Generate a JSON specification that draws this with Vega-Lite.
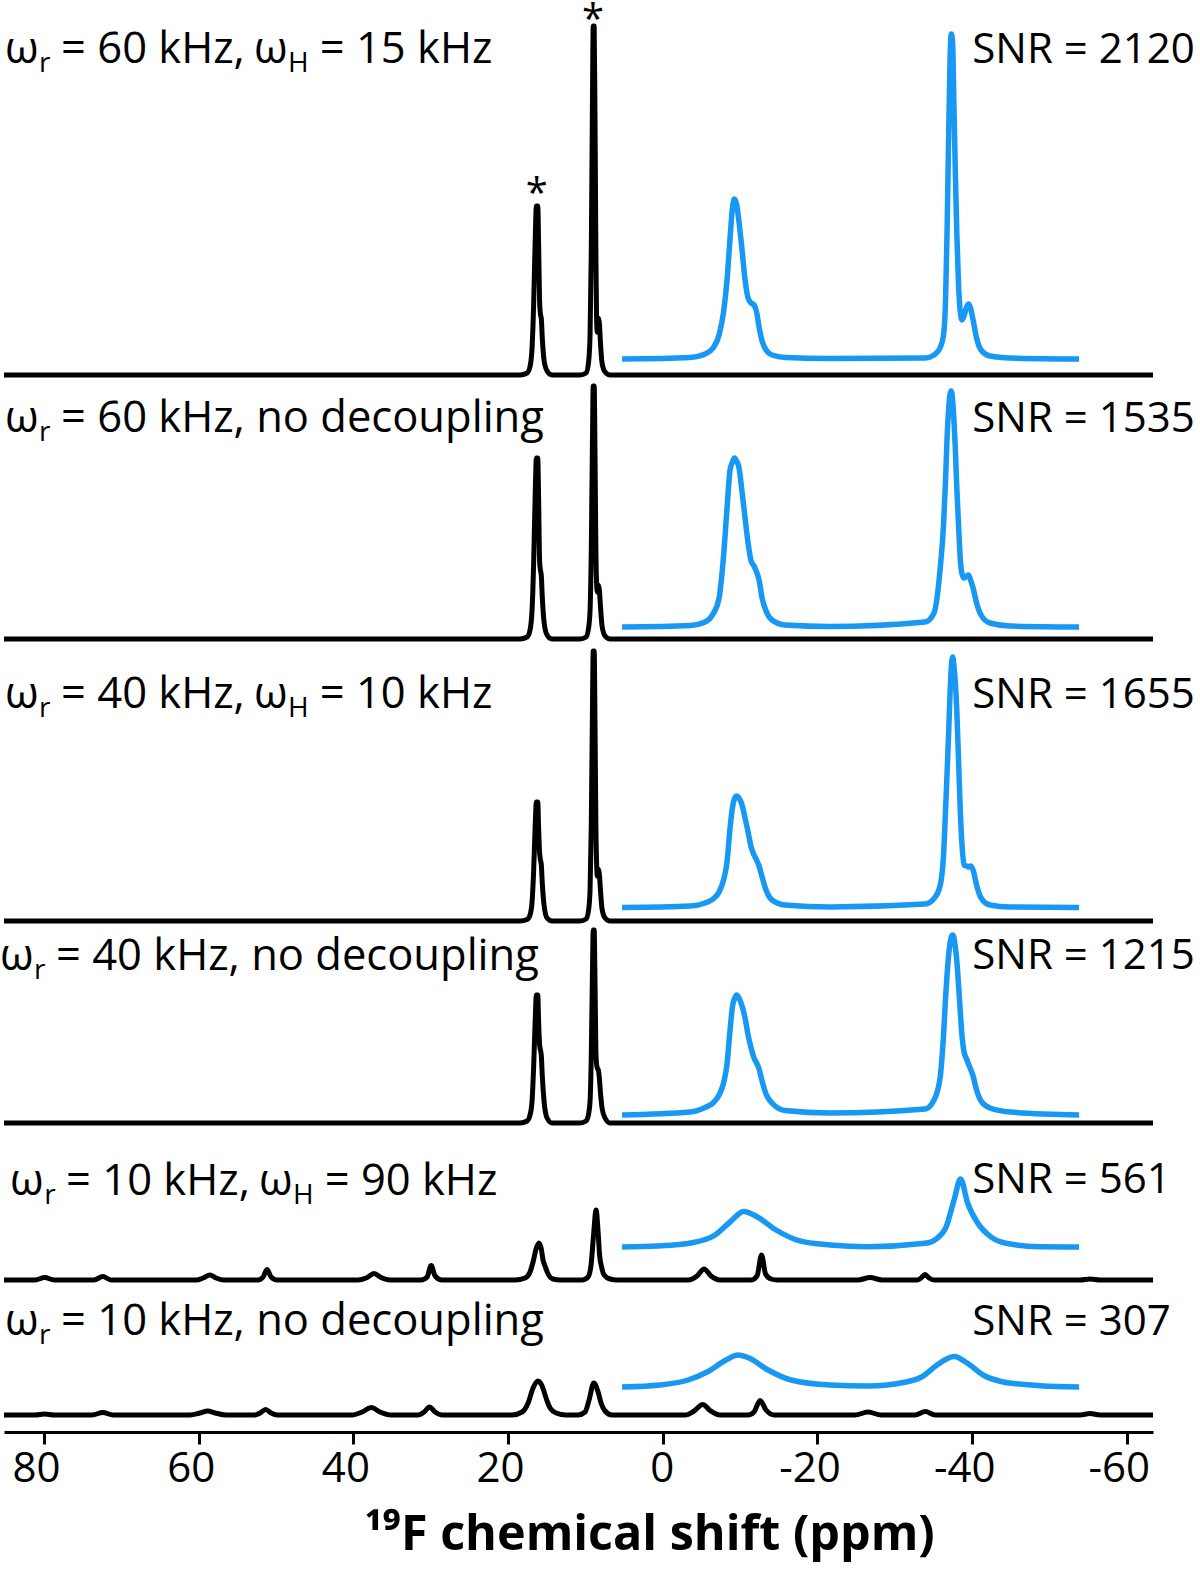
{
"$schema": "https://vega.github.io/schema/vega-lite/v6.json",
"width": 1149, "height": 1432,
"autosize": {"type": "none"},
"padding": {"left": 4, "top": 0, "right": 47, "bottom": 141},
"config": {"view": {"stroke": null}, "axis": {"grid": false}},
"datasets": {
"full": [
{"s":"1","x":85.17,"y":1057},{"s":"1","x":18.45,"y":1057},{"s":"1","x":17.54,"y":1059},{"s":"1","x":17.16,"y":1065.5},{"s":"1","x":16.90,"y":1084},{"s":"1","x":16.70,"y":1126},{"s":"1","x":16.51,"y":1187},{"s":"1","x":16.34,"y":1226},{"s":"1","x":16.16,"y":1226},{"s":"1","x":16.06,"y":1192},{"s":"1","x":15.93,"y":1132},{"s":"1","x":15.82,"y":1118},{"s":"1","x":15.71,"y":1114},{"s":"1","x":15.57,"y":1093},{"s":"1","x":15.35,"y":1072},{"s":"1","x":14.96,"y":1061},{"s":"1","x":14.31,"y":1057},{"s":"1","x":10.69,"y":1057},{"s":"1","x":9.92,"y":1059},{"s":"1","x":9.59,"y":1070},{"s":"1","x":9.40,"y":1097},{"s":"1","x":9.24,"y":1182},{"s":"1","x":9.10,"y":1322},{"s":"1","x":8.99,"y":1406},{"s":"1","x":8.87,"y":1406},{"s":"1","x":8.75,"y":1302},{"s":"1","x":8.65,"y":1182},{"s":"1","x":8.56,"y":1114},{"s":"1","x":8.46,"y":1100},{"s":"1","x":8.33,"y":1114},{"s":"1","x":8.20,"y":1109},{"s":"1","x":8.04,"y":1087},{"s":"1","x":7.85,"y":1069},{"s":"1","x":7.46,"y":1060},{"s":"1","x":6.81,"y":1057},{"s":"1","x":-63.38,"y":1057},
{"s":"2","x":85.17,"y":793},{"s":"2","x":18.45,"y":793},{"s":"2","x":17.54,"y":795},{"s":"2","x":17.16,"y":802},{"s":"2","x":16.90,"y":822},{"s":"2","x":16.70,"y":867},{"s":"2","x":16.51,"y":932},{"s":"2","x":16.34,"y":974},{"s":"2","x":16.16,"y":974},{"s":"2","x":16.06,"y":938},{"s":"2","x":15.93,"y":872},{"s":"2","x":15.82,"y":862},{"s":"2","x":15.71,"y":857},{"s":"2","x":15.57,"y":834},{"s":"2","x":15.35,"y":810},{"s":"2","x":14.96,"y":797},{"s":"2","x":14.31,"y":793},{"s":"2","x":10.69,"y":793},{"s":"2","x":9.92,"y":795},{"s":"2","x":9.59,"y":804},{"s":"2","x":9.40,"y":822},{"s":"2","x":9.24,"y":884},{"s":"2","x":9.10,"y":985},{"s":"2","x":8.99,"y":1046},{"s":"2","x":8.87,"y":1046},{"s":"2","x":8.75,"y":970},{"s":"2","x":8.65,"y":884},{"s":"2","x":8.56,"y":850},{"s":"2","x":8.46,"y":840},{"s":"2","x":8.33,"y":847},{"s":"2","x":8.20,"y":842},{"s":"2","x":8.04,"y":824},{"s":"2","x":7.85,"y":806},{"s":"2","x":7.46,"y":796},{"s":"2","x":6.81,"y":793},{"s":"2","x":-63.38,"y":793},
{"s":"3","x":85.17,"y":511},{"s":"3","x":18.45,"y":511},{"s":"3","x":17.54,"y":512.5},{"s":"3","x":17.16,"y":517},{"s":"3","x":16.90,"y":530},{"s":"3","x":16.70,"y":560},{"s":"3","x":16.51,"y":603},{"s":"3","x":16.34,"y":630},{"s":"3","x":16.16,"y":630},{"s":"3","x":16.06,"y":606},{"s":"3","x":15.93,"y":580},{"s":"3","x":15.82,"y":572},{"s":"3","x":15.71,"y":568},{"s":"3","x":15.57,"y":548},{"s":"3","x":15.35,"y":527},{"s":"3","x":14.96,"y":514},{"s":"3","x":14.31,"y":511},{"s":"3","x":10.69,"y":511},{"s":"3","x":9.92,"y":513},{"s":"3","x":9.59,"y":522},{"s":"3","x":9.40,"y":542},{"s":"3","x":9.24,"y":608},{"s":"3","x":9.10,"y":716},{"s":"3","x":8.99,"y":781},{"s":"3","x":8.87,"y":781},{"s":"3","x":8.75,"y":700},{"s":"3","x":8.65,"y":608},{"s":"3","x":8.56,"y":570},{"s":"3","x":8.46,"y":556},{"s":"3","x":8.33,"y":563},{"s":"3","x":8.20,"y":558},{"s":"3","x":8.04,"y":540},{"s":"3","x":7.85,"y":523},{"s":"3","x":7.46,"y":514},{"s":"3","x":6.81,"y":511},{"s":"3","x":-63.38,"y":511},
{"s":"4","x":85.17,"y":309},{"s":"4","x":18.45,"y":309},{"s":"4","x":17.54,"y":311},{"s":"4","x":17.16,"y":317},{"s":"4","x":16.90,"y":331},{"s":"4","x":16.70,"y":364},{"s":"4","x":16.51,"y":408},{"s":"4","x":16.34,"y":437},{"s":"4","x":16.16,"y":437},{"s":"4","x":16.06,"y":412},{"s":"4","x":15.93,"y":388},{"s":"4","x":15.82,"y":382},{"s":"4","x":15.71,"y":377},{"s":"4","x":15.57,"y":355},{"s":"4","x":15.35,"y":331},{"s":"4","x":14.96,"y":314},{"s":"4","x":14.31,"y":309},{"s":"4","x":10.69,"y":309},{"s":"4","x":9.92,"y":311},{"s":"4","x":9.59,"y":318},{"s":"4","x":9.40,"y":331},{"s":"4","x":9.24,"y":378},{"s":"4","x":9.10,"y":456},{"s":"4","x":8.99,"y":502},{"s":"4","x":8.87,"y":502},{"s":"4","x":8.75,"y":444},{"s":"4","x":8.65,"y":382},{"s":"4","x":8.56,"y":368},{"s":"4","x":8.46,"y":364},{"s":"4","x":8.33,"y":362},{"s":"4","x":8.20,"y":354},{"s":"4","x":8.04,"y":338},{"s":"4","x":7.85,"y":324},{"s":"4","x":7.46,"y":314},{"s":"4","x":6.81,"y":309},{"s":"4","x":-63.38,"y":309},
{"s":"5","x":85.17,"y":152},{"s":"5","x":81.15,"y":152},{"s":"5","x":79.91,"y":154.5},{"s":"5","x":78.70,"y":152},{"s":"5","x":73.52,"y":152},{"s":"5","x":72.40,"y":155.5},{"s":"5","x":71.33,"y":152},{"s":"5","x":60.34,"y":152},{"s":"5","x":59.43,"y":154},{"s":"5","x":58.55,"y":157},{"s":"5","x":57.75,"y":154},{"s":"5","x":56.72,"y":152},{"s":"5","x":52.32,"y":152},{"s":"5","x":51.67,"y":155},{"s":"5","x":51.16,"y":162.5},{"s":"5","x":50.64,"y":155},{"s":"5","x":49.86,"y":152},{"s":"5","x":39.39,"y":152},{"s":"5","x":38.36,"y":154},{"s":"5","x":37.32,"y":158.5},{"s":"5","x":36.42,"y":154.5},{"s":"5","x":35.26,"y":152},{"s":"5","x":31.25,"y":152},{"s":"5","x":30.47,"y":155},{"s":"5","x":29.95,"y":166.5},{"s":"5","x":29.44,"y":156},{"s":"5","x":28.53,"y":152},{"s":"5","x":19.10,"y":152},{"s":"5","x":17.80,"y":154},{"s":"5","x":17.16,"y":160},{"s":"5","x":16.77,"y":170},{"s":"5","x":16.38,"y":183},{"s":"5","x":16.02,"y":189},{"s":"5","x":15.73,"y":184},{"s":"5","x":15.48,"y":172},{"s":"5","x":15.22,"y":166},{"s":"5","x":14.83,"y":158},{"s":"5","x":14.18,"y":153},{"s":"5","x":13.28,"y":152},{"s":"5","x":10.43,"y":152},{"s":"5","x":9.66,"y":155},{"s":"5","x":9.27,"y":167},{"s":"5","x":8.95,"y":197},{"s":"5","x":8.62,"y":222},{"s":"5","x":8.36,"y":200},{"s":"5","x":8.17,"y":177},{"s":"5","x":7.91,"y":165},{"s":"5","x":7.59,"y":157},{"s":"5","x":6.81,"y":153},{"s":"5","x":5.91,"y":152},{"s":"5","x":-3.27,"y":152},{"s":"5","x":-4.43,"y":156},{"s":"5","x":-5.34,"y":163},{"s":"5","x":-6.24,"y":156},{"s":"5","x":-7.41,"y":152},{"s":"5","x":-11.42,"y":152},{"s":"5","x":-12.19,"y":156},{"s":"5","x":-12.77,"y":177},{"s":"5","x":-13.29,"y":158},{"s":"5","x":-14.00,"y":153},{"s":"5","x":-14.78,"y":152},{"s":"5","x":-25.25,"y":152},{"s":"5","x":-26.80,"y":154.5},{"s":"5","x":-28.35,"y":152},{"s":"5","x":-32.88,"y":152},{"s":"5","x":-33.39,"y":154},{"s":"5","x":-33.91,"y":157.5},{"s":"5","x":-34.43,"y":154},{"s":"5","x":-35.07,"y":152},{"s":"5","x":-53.95,"y":152},{"s":"5","x":-55.24,"y":153},{"s":"5","x":-56.54,"y":152},{"s":"5","x":-63.38,"y":152},
{"s":"6","x":85.17,"y":17},{"s":"6","x":81.15,"y":17},{"s":"6","x":79.91,"y":18},{"s":"6","x":78.70,"y":17},{"s":"6","x":73.78,"y":17},{"s":"6","x":72.40,"y":19.5},{"s":"6","x":71.07,"y":17},{"s":"6","x":61.11,"y":17},{"s":"6","x":59.82,"y":19},{"s":"6","x":58.84,"y":21},{"s":"6","x":57.88,"y":19},{"s":"6","x":56.46,"y":17},{"s":"6","x":52.71,"y":17},{"s":"6","x":52.06,"y":19},{"s":"6","x":51.34,"y":22.5},{"s":"6","x":50.64,"y":19},{"s":"6","x":49.86,"y":17},{"s":"6","x":40.17,"y":17},{"s":"6","x":38.88,"y":20},{"s":"6","x":37.66,"y":24.5},{"s":"6","x":36.55,"y":20},{"s":"6","x":35.13,"y":17},{"s":"6","x":31.64,"y":17},{"s":"6","x":30.86,"y":20},{"s":"6","x":30.16,"y":25},{"s":"6","x":29.44,"y":20},{"s":"6","x":28.53,"y":17},{"s":"6","x":19.48,"y":17},{"s":"6","x":18.19,"y":20},{"s":"6","x":17.41,"y":29},{"s":"6","x":16.77,"y":44},{"s":"6","x":16.12,"y":51},{"s":"6","x":15.60,"y":46},{"s":"6","x":15.09,"y":34},{"s":"6","x":14.57,"y":24},{"s":"6","x":13.79,"y":19},{"s":"6","x":12.50,"y":17},{"s":"6","x":10.95,"y":17},{"s":"6","x":10.05,"y":20},{"s":"6","x":9.53,"y":32},{"s":"6","x":8.92,"y":49},{"s":"6","x":8.36,"y":40},{"s":"6","x":7.98,"y":29},{"s":"6","x":7.46,"y":21},{"s":"6","x":6.55,"y":17},{"s":"6","x":-2.88,"y":17},{"s":"6","x":-4.05,"y":21},{"s":"6","x":-5.16,"y":27.5},{"s":"6","x":-6.12,"y":21.5},{"s":"6","x":-7.41,"y":17},{"s":"6","x":-11.03,"y":17},{"s":"6","x":-11.80,"y":20},{"s":"6","x":-12.58,"y":31.5},{"s":"6","x":-13.35,"y":22},{"s":"6","x":-14.39,"y":17},{"s":"6","x":-24.86,"y":17},{"s":"6","x":-26.54,"y":20},{"s":"6","x":-28.22,"y":17},{"s":"6","x":-32.62,"y":17},{"s":"6","x":-33.95,"y":20.5},{"s":"6","x":-35.20,"y":17},{"s":"6","x":-53.95,"y":17},{"s":"6","x":-55.24,"y":18.5},{"s":"6","x":-56.54,"y":17},{"s":"6","x":-63.38,"y":17}
],
"zoom": [
{"s":"1","x":5.26,"y":1073},{"s":"1","x":-3.53,"y":1074.5},{"s":"1","x":-5.47,"y":1078},{"s":"1","x":-6.50,"y":1084},{"s":"1","x":-7.28,"y":1097},{"s":"1","x":-7.86,"y":1120},{"s":"1","x":-8.31,"y":1152},{"s":"1","x":-8.70,"y":1194},{"s":"1","x":-9.02,"y":1225},{"s":"1","x":-9.26,"y":1233},{"s":"1","x":-9.54,"y":1228},{"s":"1","x":-9.86,"y":1210},{"s":"1","x":-10.25,"y":1182},{"s":"1","x":-10.64,"y":1152},{"s":"1","x":-11.03,"y":1134},{"s":"1","x":-11.42,"y":1129},{"s":"1","x":-11.80,"y":1127},{"s":"1","x":-12.13,"y":1120},{"s":"1","x":-12.45,"y":1105},{"s":"1","x":-12.84,"y":1091},{"s":"1","x":-13.35,"y":1082},{"s":"1","x":-14.13,"y":1077},{"s":"1","x":-15.81,"y":1074.5},{"s":"1","x":-21.63,"y":1073.5},{"s":"1","x":-33.91,"y":1074},{"s":"1","x":-35.07,"y":1077},{"s":"1","x":-35.85,"y":1084},{"s":"1","x":-36.30,"y":1097},{"s":"1","x":-36.56,"y":1132},{"s":"1","x":-36.76,"y":1202},{"s":"1","x":-36.95,"y":1292},{"s":"1","x":-37.14,"y":1372},{"s":"1","x":-37.30,"y":1398},{"s":"1","x":-37.47,"y":1390},{"s":"1","x":-37.63,"y":1332},{"s":"1","x":-37.82,"y":1262},{"s":"1","x":-38.01,"y":1200},{"s":"1","x":-38.24,"y":1147},{"s":"1","x":-38.47,"y":1120},{"s":"1","x":-38.69,"y":1112},{"s":"1","x":-38.95,"y":1116},{"s":"1","x":-39.28,"y":1125},{"s":"1","x":-39.53,"y":1128},{"s":"1","x":-39.79,"y":1124},{"s":"1","x":-40.12,"y":1112},{"s":"1","x":-40.57,"y":1094},{"s":"1","x":-41.15,"y":1082},{"s":"1","x":-42.31,"y":1076},{"s":"1","x":-44.90,"y":1074},{"s":"1","x":-53.82,"y":1073},
{"s":"2","x":5.26,"y":805},{"s":"2","x":-3.53,"y":806.5},{"s":"2","x":-5.47,"y":810},{"s":"2","x":-6.50,"y":818},{"s":"2","x":-7.28,"y":834},{"s":"2","x":-7.86,"y":876},{"s":"2","x":-8.31,"y":924},{"s":"2","x":-8.70,"y":962},{"s":"2","x":-9.02,"y":970},{"s":"2","x":-9.26,"y":974},{"s":"2","x":-9.54,"y":971},{"s":"2","x":-9.86,"y":964},{"s":"2","x":-10.25,"y":940},{"s":"2","x":-10.64,"y":914},{"s":"2","x":-11.03,"y":889},{"s":"2","x":-11.42,"y":871},{"s":"2","x":-11.80,"y":866},{"s":"2","x":-12.13,"y":860},{"s":"2","x":-12.45,"y":852},{"s":"2","x":-12.84,"y":834},{"s":"2","x":-13.35,"y":821},{"s":"2","x":-14.13,"y":812},{"s":"2","x":-15.81,"y":807},{"s":"2","x":-21.63,"y":805.5},{"s":"2","x":-33.91,"y":810},{"s":"2","x":-35.07,"y":819},{"s":"2","x":-35.85,"y":862},{"s":"2","x":-36.30,"y":907},{"s":"2","x":-36.56,"y":952},{"s":"2","x":-36.76,"y":995},{"s":"2","x":-36.95,"y":1022},{"s":"2","x":-37.14,"y":1038},{"s":"2","x":-37.30,"y":1041},{"s":"2","x":-37.47,"y":1032},{"s":"2","x":-37.63,"y":1014},{"s":"2","x":-37.82,"y":984},{"s":"2","x":-38.01,"y":945},{"s":"2","x":-38.24,"y":907},{"s":"2","x":-38.47,"y":872},{"s":"2","x":-38.69,"y":858},{"s":"2","x":-38.95,"y":854},{"s":"2","x":-39.28,"y":856},{"s":"2","x":-39.53,"y":857},{"s":"2","x":-39.79,"y":852},{"s":"2","x":-40.12,"y":844},{"s":"2","x":-40.57,"y":829},{"s":"2","x":-41.15,"y":817},{"s":"2","x":-42.31,"y":809},{"s":"2","x":-44.90,"y":806},{"s":"2","x":-53.82,"y":805},
{"s":"3","x":5.26,"y":524.5},{"s":"3","x":-3.53,"y":526},{"s":"3","x":-5.47,"y":529},{"s":"3","x":-6.50,"y":533},{"s":"3","x":-7.28,"y":540},{"s":"3","x":-7.86,"y":552},{"s":"3","x":-8.31,"y":570},{"s":"3","x":-8.70,"y":604},{"s":"3","x":-9.02,"y":625},{"s":"3","x":-9.26,"y":633},{"s":"3","x":-9.54,"y":636},{"s":"3","x":-9.86,"y":634},{"s":"3","x":-10.25,"y":627},{"s":"3","x":-10.64,"y":614},{"s":"3","x":-11.03,"y":600},{"s":"3","x":-11.42,"y":585},{"s":"3","x":-11.80,"y":577},{"s":"3","x":-12.13,"y":572},{"s":"3","x":-12.45,"y":566},{"s":"3","x":-12.84,"y":555},{"s":"3","x":-13.35,"y":542},{"s":"3","x":-14.13,"y":532},{"s":"3","x":-15.81,"y":527},{"s":"3","x":-21.63,"y":525},{"s":"3","x":-33.91,"y":528},{"s":"3","x":-35.07,"y":533.5},{"s":"3","x":-35.85,"y":546},{"s":"3","x":-36.30,"y":577},{"s":"3","x":-36.56,"y":622},{"s":"3","x":-36.76,"y":660},{"s":"3","x":-36.95,"y":697},{"s":"3","x":-37.14,"y":739},{"s":"3","x":-37.30,"y":764},{"s":"3","x":-37.47,"y":775},{"s":"3","x":-37.63,"y":767},{"s":"3","x":-37.82,"y":750},{"s":"3","x":-38.01,"y":722},{"s":"3","x":-38.24,"y":672},{"s":"3","x":-38.47,"y":620},{"s":"3","x":-38.69,"y":587},{"s":"3","x":-38.95,"y":567},{"s":"3","x":-39.28,"y":566},{"s":"3","x":-39.53,"y":565},{"s":"3","x":-39.79,"y":566},{"s":"3","x":-40.12,"y":562},{"s":"3","x":-40.57,"y":547},{"s":"3","x":-41.15,"y":534},{"s":"3","x":-42.31,"y":527},{"s":"3","x":-44.90,"y":525},{"s":"3","x":-53.82,"y":524.5},
{"s":"4","x":5.26,"y":317},{"s":"4","x":-3.53,"y":320},{"s":"4","x":-5.47,"y":324.5},{"s":"4","x":-6.50,"y":329},{"s":"4","x":-7.28,"y":337},{"s":"4","x":-7.86,"y":349},{"s":"4","x":-8.31,"y":368},{"s":"4","x":-8.70,"y":402},{"s":"4","x":-9.02,"y":426},{"s":"4","x":-9.26,"y":433},{"s":"4","x":-9.54,"y":437},{"s":"4","x":-9.86,"y":434},{"s":"4","x":-10.25,"y":426},{"s":"4","x":-10.64,"y":414},{"s":"4","x":-11.03,"y":397},{"s":"4","x":-11.42,"y":384},{"s":"4","x":-11.80,"y":374},{"s":"4","x":-12.13,"y":369},{"s":"4","x":-12.45,"y":363},{"s":"4","x":-12.84,"y":351},{"s":"4","x":-13.35,"y":338},{"s":"4","x":-14.13,"y":329},{"s":"4","x":-15.81,"y":321.5},{"s":"4","x":-21.63,"y":319},{"s":"4","x":-33.91,"y":323},{"s":"4","x":-35.07,"y":332},{"s":"4","x":-35.85,"y":354},{"s":"4","x":-36.30,"y":397},{"s":"4","x":-36.56,"y":434},{"s":"4","x":-36.76,"y":458},{"s":"4","x":-36.95,"y":476},{"s":"4","x":-37.14,"y":489},{"s":"4","x":-37.30,"y":495},{"s":"4","x":-37.47,"y":497},{"s":"4","x":-37.63,"y":495},{"s":"4","x":-37.82,"y":485},{"s":"4","x":-38.01,"y":472},{"s":"4","x":-38.24,"y":447},{"s":"4","x":-38.47,"y":420},{"s":"4","x":-38.69,"y":396},{"s":"4","x":-38.95,"y":380},{"s":"4","x":-39.28,"y":373},{"s":"4","x":-39.53,"y":368},{"s":"4","x":-39.79,"y":363},{"s":"4","x":-40.12,"y":356},{"s":"4","x":-40.57,"y":342},{"s":"4","x":-41.15,"y":331},{"s":"4","x":-42.31,"y":324},{"s":"4","x":-44.90,"y":320},{"s":"4","x":-53.82,"y":317},
{"s":"5","x":5.26,"y":185},{"s":"5","x":0.74,"y":186},{"s":"5","x":-3.79,"y":189.3},{"s":"5","x":-6.76,"y":197},{"s":"5","x":-8.70,"y":210},{"s":"5","x":-10.45,"y":220.5},{"s":"5","x":-12.19,"y":215.3},{"s":"5","x":-14.65,"y":202},{"s":"5","x":-17.62,"y":191.3},{"s":"5","x":-21.63,"y":187},{"s":"5","x":-26.54,"y":185.3},{"s":"5","x":-33.91,"y":188.7},{"s":"5","x":-35.46,"y":193.7},{"s":"5","x":-36.63,"y":205},{"s":"5","x":-37.66,"y":232},{"s":"5","x":-38.50,"y":253},{"s":"5","x":-39.41,"y":229},{"s":"5","x":-40.63,"y":210},{"s":"5","x":-42.38,"y":195.3},{"s":"5","x":-44.38,"y":188.7},{"s":"5","x":-48.78,"y":185.3},{"s":"5","x":-53.82,"y":185},
{"s":"6","x":5.26,"y":45},{"s":"6","x":0.35,"y":47},{"s":"6","x":-3.27,"y":52},{"s":"6","x":-5.73,"y":60},{"s":"6","x":-8.18,"y":72},{"s":"6","x":-9.73,"y":77},{"s":"6","x":-11.16,"y":74},{"s":"6","x":-13.61,"y":62},{"s":"6","x":-16.59,"y":52},{"s":"6","x":-21.63,"y":47},{"s":"6","x":-26.54,"y":46},{"s":"6","x":-31.45,"y":50},{"s":"6","x":-33.46,"y":55},{"s":"6","x":-35.46,"y":67},{"s":"6","x":-37.66,"y":75.5},{"s":"6","x":-39.41,"y":68.7},{"s":"6","x":-41.41,"y":57},{"s":"6","x":-43.87,"y":50.3},{"s":"6","x":-48.78,"y":46.3},{"s":"6","x":-53.82,"y":45}
],
"labels": [
{"k":"m","x":85.03,"y":1369,"t":"ω"},{"k":"s","x":80.63,"y":1369,"t":"r"},{"k":"m","x":77.79,"y":1369,"t":"= 60 kHz,"},{"k":"m","x":52.84,"y":1369,"t":"ω"},{"k":"s","x":48.44,"y":1369,"t":"H"},{"k":"m","x":44.34,"y":1369,"t":"= 15 kHz"},
{"k":"m","x":85.03,"y":1000,"t":"ω"},{"k":"s","x":80.63,"y":1000,"t":"r"},{"k":"m","x":77.79,"y":1000,"t":"= 60 kHz, no decoupling"},
{"k":"m","x":85.03,"y":724,"t":"ω"},{"k":"s","x":80.63,"y":724,"t":"r"},{"k":"m","x":77.79,"y":724,"t":"= 40 kHz,"},{"k":"m","x":52.84,"y":724,"t":"ω"},{"k":"s","x":48.44,"y":724,"t":"H"},{"k":"m","x":44.34,"y":724,"t":"= 10 kHz"},
{"k":"m","x":85.68,"y":462,"t":"ω"},{"k":"s","x":81.28,"y":462,"t":"r"},{"k":"m","x":78.44,"y":462,"t":"= 40 kHz, no decoupling"},
{"k":"m","x":84.38,"y":237,"t":"ω"},{"k":"s","x":79.98,"y":237,"t":"r"},{"k":"m","x":77.14,"y":237,"t":"= 10 kHz,"},{"k":"m","x":52.19,"y":237,"t":"ω"},{"k":"s","x":47.80,"y":237,"t":"H"},{"k":"m","x":43.70,"y":237,"t":"= 90 kHz"},
{"k":"m","x":85.03,"y":97,"t":"ω"},{"k":"s","x":80.63,"y":97,"t":"r"},{"k":"m","x":77.79,"y":97,"t":"= 10 kHz, no decoupling"}
],
"snr": [
{"x":-40.01,"y":1369,"t":"SNR = 2120"},{"x":-40.01,"y":1000,"t":"SNR = 1535"},{"x":-40.01,"y":724,"t":"SNR = 1655"},{"x":-40.01,"y":463,"t":"SNR = 1215"},{"x":-40.01,"y":239,"t":"SNR = 561"},{"x":-40.01,"y":97,"t":"SNR = 307"}
],
"stars": [{"x":16.29,"y":1237,"t":"*"},{"x":9.01,"y":1411,"t":"*"}]
},
"encoding": {
"x": {"field":"x","type":"quantitative",
 "scale":{"domain":[-63.38,85.17],"reverse":true,"nice":false,"zero":false},
 "axis":{"values":[80,60,40,20,0,-20,-40,-60],"labelExpr":"'' + datum.value","domainColor":"#000","domainWidth":3,"tickColor":"#000","tickWidth":3,"tickSize":12,"labelColor":"#000","labelFont":"Open Sans","labelFontSize":42,"labelPadding":4,"labelFlush":false,"labelOverlap":false,"labelOffset":{"condition":{"test":"datum.value == 0","value":-1},"value":-8},
 "title":"¹⁹F chemical shift (ppm)","titleFont":"Open Sans","titleFontWeight":"bold","titleFontSize":48.5,"titleColor":"#000","titleX":645,"titleY":117,"titleBaseline":"alphabetic","titleAlign":"center"}},
"y": {"field":"y","type":"quantitative","scale":{"domain":[0,1432],"nice":false,"zero":false},"axis":null}
},
"layer": [
{"data":{"name":"full"},"mark":{"type":"line","color":"#000000","strokeWidth":5,"interpolate":"monotone","strokeJoin":"round"},
 "encoding":{"detail":{"field":"s"},"order":{"field":"x","sort":"descending"}}},
{"data":{"name":"zoom"},"mark":{"type":"line","color":"#1898f2","strokeWidth":5.5,"interpolate":"monotone","strokeJoin":"round"},
 "encoding":{"detail":{"field":"s"},"order":{"field":"x","sort":"descending"}}},
{"data":{"name":"labels"},"transform":[{"filter":"datum.k == 'm'"}],"mark":{"type":"text","align":"left","baseline":"alphabetic","font":"Open Sans","fontSize":43.5,"color":"#000"},
 "encoding":{"text":{"field":"t"}}},
{"data":{"name":"labels"},"transform":[{"filter":"datum.k == 's'"}],"mark":{"type":"text","align":"left","baseline":"alphabetic","font":"Open Sans","fontSize":28,"dy":9,"color":"#000"},
 "encoding":{"text":{"field":"t"}}},
{"data":{"name":"snr"},"mark":{"type":"text","align":"left","baseline":"alphabetic","font":"Open Sans","fontSize":42,"color":"#000"},
 "encoding":{"text":{"field":"t"}}},
{"data":{"name":"stars"},"mark":{"type":"text","align":"center","baseline":"middle","font":"Open Sans","fontSize":40,"color":"#000"},
 "encoding":{"text":{"field":"t"}}}
]
}
